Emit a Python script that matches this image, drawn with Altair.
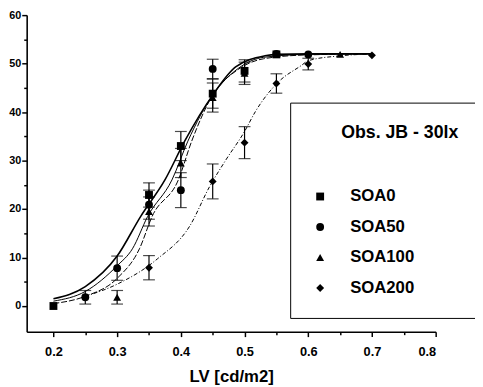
import altair as alt
import pandas as pd

FONT = "Liberation Sans"

series = ["SOA0", "SOA50", "SOA100", "SOA200"]
shapes = ["square", "circle", "triangle-up", "diamond"]

# measured points (LV, value, error half-width)
soa0_x = [0.20, 0.35, 0.40, 0.45, 0.50, 0.55]
soa0_y = [0.0, 22.9, 33.0, 43.8, 48.5, 51.9]
soa0_e = [0.0, 2.5, 3.0, 3.0, 2.3, 0.0]

soa50_x = [0.25, 0.30, 0.35, 0.40, 0.45, 0.55, 0.60]
soa50_y = [1.8, 7.8, 20.9, 23.9, 48.9, 52.0, 51.9]
soa50_e = [1.4, 2.5, 3.0, 3.6, 2.0, 0.0, 0.0]

soa100_x = [0.30, 0.35, 0.40, 0.45, 0.50, 0.65]
soa100_y = [1.8, 19.5, 29.5, 43.0, 48.0, 51.9]
soa100_e = [1.4, 3.0, 3.0, 3.0, 2.3, 0.0]

soa200_x = [0.35, 0.45, 0.50, 0.55, 0.60, 0.70]
soa200_y = [7.9, 25.7, 33.7, 45.9, 49.9, 51.7]
soa200_e = [2.5, 3.6, 3.3, 2.0, 1.2, 0.0]

# fitted curves
fit0_x = [0.20, 0.25, 0.30, 0.337, 0.375, 0.406, 0.45, 0.486, 0.532, 0.55, 0.60, 0.70]
fit0_y = [1.5, 4.0, 10.3, 18.5, 26.0, 34.0, 43.5, 49.3, 51.6, 51.9, 52.0, 52.0]
fit50_x = [0.20, 0.25, 0.30, 0.324, 0.348, 0.386, 0.411, 0.45, 0.49, 0.53, 0.60, 0.70]
fit50_y = [1.0, 3.0, 8.3, 11.8, 18.5, 26.0, 34.0, 43.5, 49.0, 51.3, 51.9, 52.0]
fit100_x = [0.20, 0.25, 0.30, 0.335, 0.355, 0.396, 0.417, 0.45, 0.49, 0.53, 0.60, 0.70]
fit100_y = [0.5, 2.0, 5.7, 11.8, 18.5, 26.0, 34.0, 43.5, 48.8, 51.0, 51.8, 52.0]
fit200_x = [0.25, 0.30, 0.363, 0.414, 0.445, 0.47, 0.50, 0.517, 0.553, 0.589, 0.60, 0.65, 0.70]
fit200_y = [2.0, 4.5, 9.7, 16.5, 24.6, 30.0, 36.0, 40.1, 46.2, 49.6, 50.6, 51.6, 52.0]

x_major = [0.2, 0.3, 0.4, 0.5, 0.6, 0.7, 0.8]
x_minor = [0.25, 0.35, 0.45, 0.55, 0.65, 0.75]
y_major = [0, 10, 20, 30, 40, 50, 60]
y_minor = [5, 15, 25, 35, 45, 55]

ZW = "\u200b"
NB = "\u00a0"
legend_title = ZW + NB * 6 + "Obs. JB - 30lx" + NB * 2 + ZW
x_title = "LV [cd/m2]"

rows = []
for name, xs, ys, es in [("SOA0", soa0_x, soa0_y, soa0_e),
                         ("SOA50", soa50_x, soa50_y, soa50_e),
                         ("SOA100", soa100_x, soa100_y, soa100_e),
                         ("SOA200", soa200_x, soa200_y, soa200_e)]:
    for x, y, e in zip(xs, ys, es):
        rows.append({"series": name, "lv": x, "val": y, "lo": y - e, "hi": y + e, "err": e})
pts = pd.DataFrame(rows)

crow = []
for name, xs, ys in [("SOA0", fit0_x, fit0_y), ("SOA50", fit50_x, fit50_y),
                     ("SOA100", fit100_x, fit100_y), ("SOA200", fit200_x, fit200_y)]:
    for x, y in zip(xs, ys):
        crow.append({"series": name, "lv": x, "val": y})
curves = pd.DataFrame(crow)

xs_scale = alt.Scale(domain=[0.158, 0.8], nice=False, zero=False)
ys_scale = alt.Scale(domain=[-5.3, 60], nice=False, zero=False)

major_x_axis = alt.Axis(values=x_major, format=".1f", title=x_title, tickSize=5, orient="bottom",
                        labelPadding=9, titlePadding=11, titleFontSize=17, labelFontSize=13)
major_y_axis = alt.Axis(values=y_major, format="d", title=None, tickSize=5, labelPadding=1,
                        orient="left", labelFontSize=11)

line_styles = {
    "SOA0": dict(strokeWidth=1.6),
    "SOA50": dict(strokeWidth=1.0),
    "SOA100": dict(strokeWidth=1.0, strokeDash=[6, 2]),
    "SOA200": dict(strokeWidth=1.0, strokeDash=[4, 2, 1, 2]),
}

layers = []
for s in series:
    layers.append(
        alt.Chart(curves).transform_filter(alt.datum.series == s)
        .mark_line(color="black", interpolate="monotone", **line_styles[s])
        .encode(x=alt.X("lv:Q", scale=xs_scale, axis=None),
                y=alt.Y("val:Q", scale=ys_scale, axis=None))
    )

ebase = alt.Chart(pts).transform_filter(alt.datum.err > 0)
rules = ebase.mark_rule(color="black", strokeWidth=1.2).encode(
    x=alt.X("lv:Q", scale=xs_scale, axis=None),
    y=alt.Y("lo:Q", scale=ys_scale, axis=None), y2="hi:Q")
cap_lo = ebase.mark_tick(color="black", orient="horizontal", size=12, thickness=1.2).encode(
    x=alt.X("lv:Q", scale=xs_scale, axis=None),
    y=alt.Y("lo:Q", scale=ys_scale, axis=None))
cap_hi = ebase.mark_tick(color="black", orient="horizontal", size=12, thickness=1.2).encode(
    x=alt.X("lv:Q", scale=xs_scale, axis=None),
    y=alt.Y("hi:Q", scale=ys_scale, axis=None))

points = alt.Chart(pts).mark_point(filled=True, color="black", size=64, opacity=1).encode(
    x=alt.X("lv:Q", scale=xs_scale, axis=major_x_axis),
    y=alt.Y("val:Q", scale=ys_scale, axis=major_y_axis),
    shape=alt.Shape("series:N", scale=alt.Scale(domain=series, range=shapes),
                    legend=alt.Legend(title=legend_title, orient="none", legendX=268, legendY=89,
                                      strokeColor="black", padding=22, titleFontSize=18,
                                      titlePadding=47, labelFontSize=17, rowPadding=13,
                                      labelOffset=22, symbolSize=64, symbolFillColor="black",
                                      symbolStrokeColor="black", titleFont=FONT, labelFont=FONT,
                                      titleFontWeight="bold", labelFontWeight="bold",
                                      titleColor="black", labelColor="black")),
)

minor = alt.Chart(pts).mark_point(opacity=0).encode(
    x=alt.X("lv:Q", scale=xs_scale,
            axis=alt.Axis(values=x_minor, labels=False, domain=False, tickSize=3, title=None,
                          orient="bottom")),
    y=alt.Y("val:Q", scale=ys_scale,
            axis=alt.Axis(values=y_minor, labels=False, domain=False, tickSize=3, title=None,
                          orient="left")),
)

chart = alt.layer(*layers, rules, cap_lo, cap_hi, points, minor).resolve_axis(
    x="independent", y="independent"
).properties(
    width=416, height=322,
    autosize=alt.AutoSizeParams(type="none"),
    padding={"left": 19, "top": 4, "right": 40, "bottom": 53},
    background="white",
).configure_view(stroke=None).configure_axis(
    grid=False, domainColor="black", domainWidth=1.6, tickColor="black", tickWidth=1.5,
    labelFont=FONT, labelFontWeight="bold", labelColor="black",
    titleFont=FONT, titleFontWeight="bold", titleColor="black",
)

chart.save("out.html", embed_options={"renderer": "svg", "actions": False})
